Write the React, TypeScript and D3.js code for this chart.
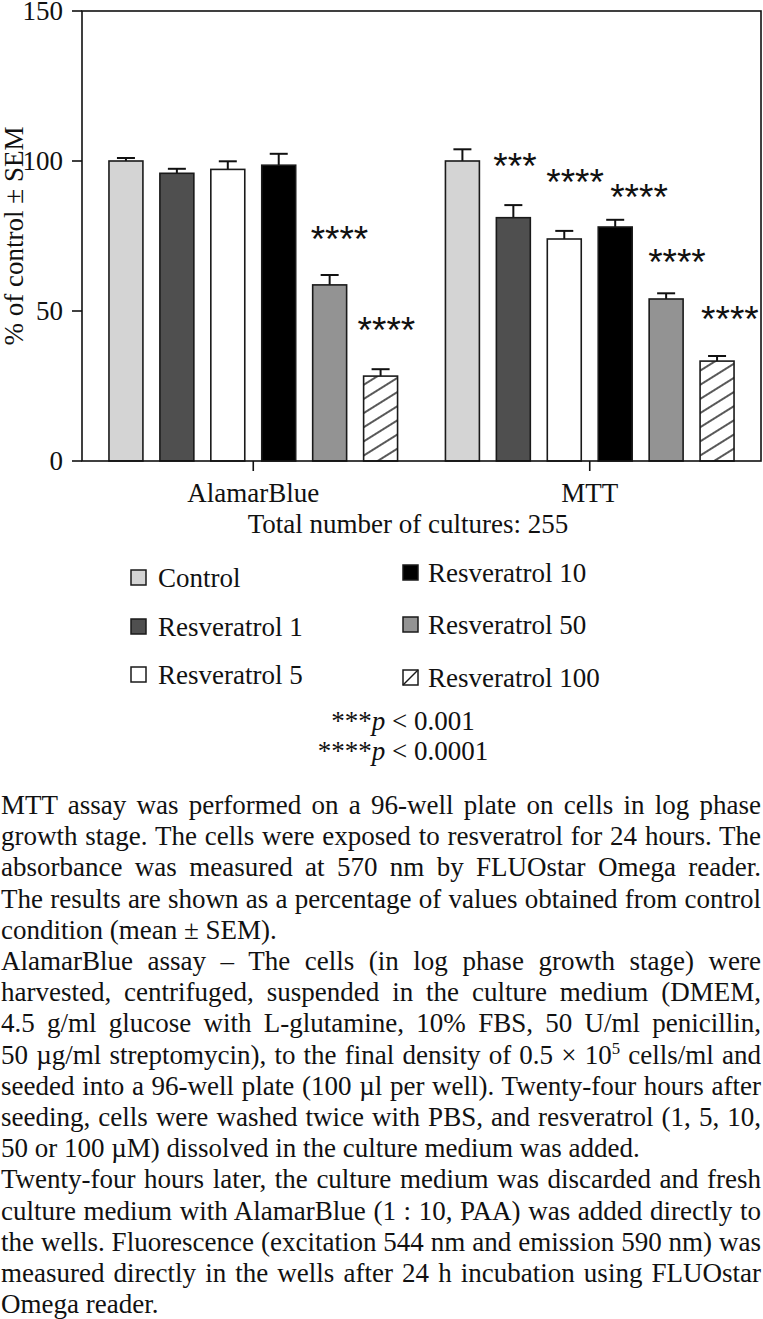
import React, { useEffect, useRef } from 'react';
import * as d3 from 'd3';

// ---------- data ----------
const groups = ['AlamarBlue', 'MTT'];
const series = ['Control', 'Resveratrol 1', 'Resveratrol 5', 'Resveratrol 10', 'Resveratrol 50', 'Resveratrol 100'];
const seriesFill = ['#d4d4d4', '#4f4f4f', '#ffffff', '#000000', '#939393', 'url(#hatch)'];
const alamarMean = [100, 95.9, 97.2, 98.6, 58.7, 28.3];
const alamarSem = [1.0, 1.5, 2.7, 3.8, 3.3, 2.3];
const mttMean = [100, 81.1, 74.0, 78.0, 54.0, 33.3];
const mttSem = [3.9, 4.2, 2.7, 2.4, 1.9, 1.7];
const alamarStars = ['', '', '', '', '****', '****'];
const mttStars = ['', '***', '****', '****', '****', '****'];
const alamarStarLevel = [0, 0, 0, 0, 76.7, 46.3];
const mttStarLevel = [0, 101, 95.7, 90.7, 69, 50];
const yTicks = [0, 50, 100, 150];
const yLabel = '% of control ± SEM';
const xNote = 'Total number of cultures: 255';
const pNotes = ['***p < 0.001', '****p < 0.0001'];

const captionLines: [string, boolean][] = [
  ['MTT assay was performed on a 96-well plate on cells in log phase', true],
  ['growth stage. The cells were exposed to resveratrol for 24 hours. The', true],
  ['absorbance was measured at 570 nm by FLUOstar Omega reader.', true],
  ['The results are shown as a percentage of values obtained from control', true],
  ['condition (mean ± SEM).', false],
  ['AlamarBlue assay – The cells (in log phase growth stage) were', true],
  ['harvested, centrifuged, suspended in the culture medium (DMEM,', true],
  ['4.5 g/ml glucose with L-glutamine, 10% FBS, 50 U/ml penicillin,', true],
  ['50 µg/ml streptomycin), to the final density of 0.5 × 10^5 cells/ml and', true],
  ['seeded into a 96-well plate (100 µl per well). Twenty-four hours after', true],
  ['seeding, cells were washed twice with PBS, and resveratrol (1, 5, 10,', true],
  ['50 or 100 µM) dissolved in the culture medium was added.', false],
  ['Twenty-four hours later, the culture medium was discarded and fresh', true],
  ['culture medium with AlamarBlue (1 : 10, PAA) was added directly to', true],
  ['the wells. Fluorescence (excitation 544 nm and emission 590 nm) was', true],
  ['measured directly in the wells after 24 h incubation using FLUOstar', true],
  ['Omega reader.', false],
];

// ---------- layout ----------
const W = 763;
const H = 1319;
const plot = { left: 82, right: 761, top: 11, bottom: 461 };
const serif = "'Liberation Serif', 'Times New Roman', Times, serif";
const sans = "'Liberation Sans', Arial, Helvetica, sans-serif";
const fs = 27;
const starFs = 37;
const starDx = [
  [0, 0, 0, 0, -2, -6],
  [0, -3, -1, 12, -1, 1],
];
const legendCols = [
  { sx: 131, tx: 158, baselines: [587, 636, 684] },
  { sx: 403, tx: 428, baselines: [582, 634, 687] },
];
const captionTop = 814;
const captionStep = 31.2;
const captionLeft = 1;
const captionRight = 761;

export default function App() {
  const capRef = useRef<SVGGElement | null>(null);

  const x0 = d3.scaleBand<string>().domain(groups).range([plot.left, plot.right]).paddingInner(0).paddingOuter(0.009);
  const x1 = d3.scaleBand<string>().domain(series).range([0, x0.bandwidth()]).paddingInner(1 / 3).paddingOuter(0.47);
  const y = d3.scaleLinear().domain([0, 150]).range([plot.bottom, plot.top]);

  const means = [alamarMean, mttMean];
  const sems = [alamarSem, mttSem];
  const stars = [alamarStars, mttStars];
  const starLevels = [alamarStarLevel, mttStarLevel];

  useEffect(() => {
    const g = d3.select(capRef.current);
    g.selectAll('*').remove();
    const avail = captionRight - captionLeft;
    captionLines.forEach(([line, justify], i) => {
      const t = g
        .append('text')
        .attr('x', captionLeft)
        .attr('y', captionTop + i * captionStep)
        .attr('font-family', serif)
        .attr('font-size', fs)
        .attr('fill', '#111');
      const parts = line.split('^');
      if (parts.length === 1) {
        t.append('tspan').text(line);
      } else {
        t.append('tspan').text(parts[0]);
        const supChar = parts[1].slice(0, 1);
        const rest = parts[1].slice(1);
        t.append('tspan').attr('font-size', fs * 0.62).attr('dy', -10).text(supChar);
        t.append('tspan').attr('dy', 10).text(rest);
      }
      if (justify) {
        const node = t.node() as SVGTextElement;
        const len = node.getComputedTextLength();
        const spaces = (line.match(/ /g) || []).length;
        if (spaces > 0) {
          const ws = (avail - len) / spaces;
          t.style('word-spacing', `${ws}px`);
        }
      }
    });
  }, []);

  return (
    <svg width={W} height={H} style={{ position: 'absolute', left: 0, top: 0, background: '#fff' }}>
      <defs>
        <pattern id="hatch" patternUnits="userSpaceOnUse" width="12" height="12" patternTransform="rotate(-32)">
          <rect width="12" height="12" fill="#fff" />
          <line x1="0" y1="6" x2="12" y2="6" stroke="#111" strokeWidth="1.4" />
        </pattern>
      </defs>

      {/* bars */}
      {groups.map((grp, gi) => (
        <g key={grp} transform={`translate(${x0(grp)},0)`}>
          {series.map((s, si) => {
            const bx = x1(s)!;
            const bw = x1.bandwidth();
            const v = means[gi][si];
            const e = sems[gi][si];
            const cx = bx + bw / 2;
            return (
              <g key={s}>
                <line x1={cx} x2={cx} y1={y(v)} y2={y(v + e)} stroke="#111" strokeWidth={2} />
                <line x1={cx - 9} x2={cx + 9} y1={y(v + e)} y2={y(v + e)} stroke="#111" strokeWidth={2} />
                <rect x={bx} y={y(v)} width={bw} height={y(0) - y(v)} fill={seriesFill[si]} stroke="#1a1a1a" strokeWidth={1.6} />
                {stars[gi][si] && (
                  <text
                    x={bx + starDx[gi][si]}
                    y={y(starLevels[gi][si]) + starFs * 0.57}
                    fontFamily={sans}
                    fontSize={starFs}
                    fill="#111"
                  >
                    {stars[gi][si]}
                  </text>
                )}
              </g>
            );
          })}
        </g>
      ))}

      {/* frame */}
      <rect x={plot.left} y={plot.top} width={plot.right - plot.left} height={plot.bottom - plot.top} fill="none" stroke="#111" strokeWidth={1.6} />

      {/* y axis */}
      {yTicks.map((t) => (
        <g key={t}>
          <line x1={plot.left - 10} x2={plot.left} y1={y(t)} y2={y(t)} stroke="#111" strokeWidth={1.6} />
          <text x={plot.left - 19} y={y(t)} dy="0.34em" textAnchor="end" fontFamily={serif} fontSize={fs} fill="#111">
            {t}
          </text>
        </g>
      ))}
      <text
        transform={`translate(23, ${(plot.top + plot.bottom) / 2}) rotate(-90)`}
        textAnchor="middle"
        fontFamily={serif}
        fontSize={fs}
        fill="#111"
      >
        {yLabel}
      </text>

      {/* x axis */}
      {groups.map((grp) => {
        const cx = x0(grp)! + x0.bandwidth() / 2;
        return (
          <g key={grp}>
            <line x1={cx} x2={cx} y1={plot.bottom} y2={plot.bottom + 10} stroke="#111" strokeWidth={1.6} />
            <text x={cx} y={502} textAnchor="middle" fontFamily={serif} fontSize={fs} fill="#111">
              {grp}
            </text>
          </g>
        );
      })}
      <text x={408} y={533} textAnchor="middle" fontFamily={serif} fontSize={fs} fill="#111">
        {xNote}
      </text>

      {/* legend */}
      {series.map((s, si) => {
        const col = legendCols[Math.floor(si / 3)];
        const row = si % 3;
        const base = col.baselines[row];
        const sy = base - 17;
        return (
          <g key={s}>
            <rect x={col.sx} y={sy} width={15} height={15} fill={si === 5 ? '#fff' : seriesFill[si]} stroke="#1a1a1a" strokeWidth={1.5} />
            {si === 5 && <line x1={col.sx} y1={sy + 15} x2={col.sx + 15} y2={sy} stroke="#1a1a1a" strokeWidth={1.5} />}
            <text x={col.tx} y={base} fontFamily={serif} fontSize={fs} fill="#111">
              {s}
            </text>
          </g>
        );
      })}

      {/* p-values */}
      {pNotes.map((p, i) => {
        const m = p.match(/^(\**)p(.*)$/)!;
        return (
          <text key={p} x={403} y={730 + i * 30} textAnchor="middle" fontFamily={serif} fontSize={fs} fill="#111">
            <tspan>{m[1]}</tspan>
            <tspan fontStyle="italic">p</tspan>
            <tspan>{m[2]}</tspan>
          </text>
        );
      })}

      {/* caption */}
      <g ref={capRef} />
    </svg>
  );
}
